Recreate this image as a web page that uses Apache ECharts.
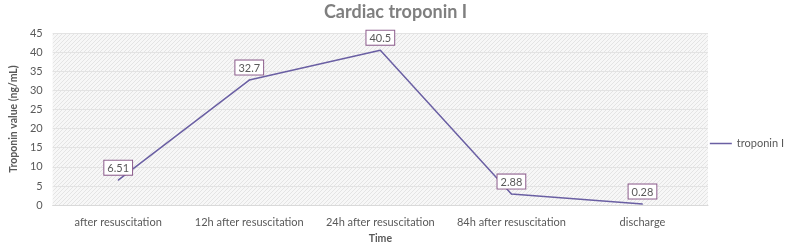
<!DOCTYPE html>
<html>
<head>
<meta charset="utf-8">
<script src="https://cdn.jsdelivr.net/npm/echarts@6/dist/echarts.min.js"></script>
<style>
  html, body { margin: 0; padding: 0; background: #fff; }
  #chart { width: 791px; height: 249px; }
</style>
</head>
<body>
<div id="chart"></div>
<script>
var categories = ['after resuscitation', '12h after resuscitation', '24h after resuscitation', '84h after resuscitation', 'discharge'];
var troponin = [6.51, 32.7, 40.5, 2.88, 0.28];
var yTicks = [0, 5, 10, 15, 20, 25, 30, 35, 40, 45];

// hatched background, like the spreadsheet fill
function hatch() {
  var c = document.createElement('canvas');
  c.width = 4; c.height = 4;
  var ctx = c.getContext('2d');
  ctx.fillStyle = '#f7f7f7';
  ctx.fillRect(0, 0, 4, 4);
  ctx.strokeStyle = '#e4e4e4';
  ctx.lineWidth = 1;
  ctx.beginPath();
  ctx.moveTo(0, 4); ctx.lineTo(4, 0);
  ctx.moveTo(-1, 1); ctx.lineTo(1, -1);
  ctx.moveTo(3, 5); ctx.lineTo(5, 3);
  ctx.stroke();
  return c;
}

var chart = echarts.init(document.getElementById('chart'));
var option = {
  animation: false,
  textStyle: { fontFamily: 'Lato, "Open Sans", sans-serif' },
  title: {
    text: 'Cardiac troponin I',
    left: 'center',
    top: -2,
    textStyle: { color: '#7f7f7f', fontSize: 18, fontWeight: 'bold' }
  },
  legend: {
    data: ['troponin I'],
    right: 2,
    top: 133,
    itemWidth: 22,
    itemHeight: 10,
    itemGap: 2,
    icon: 'path://M0,4 L22,4 L22,5.5 L0,5.5 Z',
    textStyle: { color: '#595959', fontSize: 11 }
  },
  grid: {
    left: 39, right: 83, top: 33, bottom: 38,
    show: true,
    borderWidth: 0,
    backgroundColor: { image: hatch(), repeat: 'repeat' }
  },
  xAxis: {
    type: 'category',
    data: categories,
    name: 'Time',
    nameLocation: 'middle',
    nameGap: 27,
    nameTextStyle: { color: '#595959', fontSize: 10.5, fontWeight: 'bold' },
    axisLine: { lineStyle: { color: '#d9d9d9' } },
    axisTick: { show: false },
    axisLabel: { color: '#595959', fontSize: 11, margin: 12, interval: 0 }
  },
  yAxis: {
    type: 'value',
    min: yTicks[0],
    max: yTicks[yTicks.length - 1],
    interval: 5,
    name: 'Troponin value (ng/mL)',
    nameLocation: 'middle',
    nameGap: 27,
    nameTextStyle: { color: '#595959', fontSize: 10.5, fontWeight: 'bold' },
    axisLine: { show: false },
    axisTick: { show: false },
    axisLabel: { color: '#595959', fontSize: 11, margin: 10 },
    splitLine: { lineStyle: { color: '#e3e3e3' } }
  },
  series: [{
    name: 'troponin I',
    type: 'line',
    data: troponin,
    symbol: 'circle',
    symbolSize: 1,
    showAllSymbol: true,
    lineStyle: { color: '#6a5fa3', width: 1.5 },
    itemStyle: { color: '#6a5fa3' },
    label: {
      show: true,
      position: 'top',
      distance: 5,
      color: '#595959',
      fontSize: 11,
      borderColor: '#8c5c8c',
      borderWidth: 1,
      backgroundColor: '#ffffff',
      padding: [2, 3, 1, 3]
    }
  }]
};
chart.setOption(option);
</script>
</body>
</html>
